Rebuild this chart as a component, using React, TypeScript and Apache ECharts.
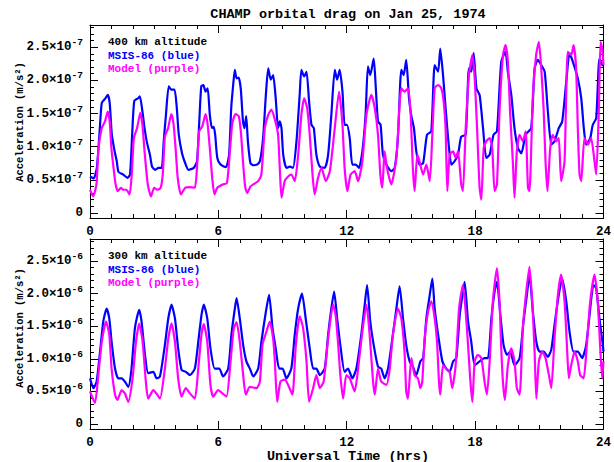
import React, { useEffect, useRef } from 'react';
import * as echarts from 'echarts';

// ---- data (hours, acceleration in units of 1e-7 for 400 km, 1e-6 for 300 km) ----
const hourLabels = [0, 6, 12, 18, 24];
const accelLabels = [0, 0.5, 1.0, 1.5, 2.0, 2.5];

const msis400: [number, number][] = [
  [0,0.55],[0.17,0.52],[0.32,0.68],[0.45,1.23],[0.55,1.66],[0.7,1.72],[0.83,1.78],[0.92,1.66],[1.02,1.18],[1.15,0.93],[1.25,0.78],[1.33,0.62],[1.55,0.58],[1.75,0.53],[1.87,0.58],[1.97,1.18],[2.07,1.69],[2.25,1.73],[2.33,1.76],[2.45,1.53],[2.55,1.28],[2.65,1.08],[2.8,0.88],[2.9,0.7],[3.05,0.65],[3.2,0.68],[3.35,0.68],[3.45,1.1],[3.55,1.48],[3.68,1.91],[3.8,1.86],[3.95,1.86],[4.05,1.61],[4.15,1.18],[4.3,0.9],[4.45,0.75],[4.6,0.65],[4.85,0.68],[5.0,0.78],[5.1,1.33],[5.2,1.91],[5.3,1.93],[5.4,1.83],[5.5,1.88],[5.6,1.48],[5.7,1.28],[5.78,1.3],[5.85,1.18],[5.95,0.83],[6.1,0.73],[6.35,0.69],[6.5,0.88],[6.6,1.58],[6.7,1.96],[6.77,2.16],[6.85,2.03],[6.95,2.04],[7.05,1.86],[7.15,1.38],[7.22,1.28],[7.3,1.46],[7.38,1.08],[7.5,0.75],
  [7.65,0.72],[7.8,0.73],[7.94,0.78],[8.09,1.13],[8.22,1.78],[8.33,2.18],[8.45,2.01],[8.56,2.08],[8.68,1.73],[8.79,1.28],[8.87,1.38],[8.95,1.28],[9.03,0.88],[9.18,0.68],[9.34,0.7],[9.49,0.68],[9.65,1.08],[9.8,1.78],[9.88,2.16],[10.01,2.06],[10.12,2.13],[10.24,1.68],[10.35,1.33],[10.46,1.28],[10.58,0.88],[10.74,0.7],[10.97,0.68],[11.13,0.88],[11.28,1.48],[11.44,2.16],[11.55,2.01],[11.67,2.16],[11.8,1.83],[11.9,1.33],[12.01,1.33],[12.14,1.13],[12.26,0.73],[12.42,0.73],[12.57,0.68],[12.73,0.93],[12.88,1.48],[12.99,2.21],[13.1,2.08],[13.26,2.33],[13.35,1.93],[13.46,1.38],[13.58,1.33],[13.69,0.88],[13.85,0.73],[14.08,0.63],[14.24,0.68],[14.39,1.13],[14.55,2.16],[14.66,2.08],[14.78,2.31],[14.91,1.73],[15.02,1.46],[15.14,1.28],[15.25,0.93],[15.4,0.73],
  [15.57,0.75],[15.75,1.18],[15.95,1.23],[16.11,2.23],[16.27,2.13],[16.37,2.48],[16.5,2.08],[16.62,1.58],[16.78,0.98],[16.89,0.73],[17.04,0.78],[17.2,0.88],[17.35,1.15],[17.56,1.18],[17.71,2.18],[17.82,2.13],[17.93,2.41],[18.06,1.88],[18.21,1.78],[18.37,1.28],[18.52,0.83],[18.68,0.88],[18.86,1.18],[19.02,1.23],[19.22,2.28],[19.42,2.43],[19.53,2.13],[19.69,1.78],[19.84,1.28],[20.0,0.98],[20.16,0.9],[20.36,1.18],[20.62,1.28],[20.78,2.18],[20.93,2.31],[21.09,2.23],[21.25,2.13],[21.4,1.53],[21.56,1.03],[21.71,1.08],[21.91,1.28],[22.07,1.38],[22.26,1.98],[22.41,2.41],[22.57,2.28],[22.8,2.03],[22.96,1.73],[23.08,1.28],[23.19,1.03],[23.38,1.13],[23.5,1.33],[23.66,1.43],[23.81,2.33],[23.94,2.23],[24,2.23],
];

const model400: [number, number][] = [
  [0,0.35],[0.15,0.25],[0.3,0.43],[0.4,0.98],[0.55,1.28],[0.7,1.38],[0.83,1.53],[0.92,1.38],[1.0,0.98],[1.1,0.68],[1.2,0.43],[1.3,0.33],[1.45,0.38],[1.55,0.35],[1.7,0.35],[1.85,0.28],[1.95,0.58],[2.05,1.13],[2.2,1.28],[2.35,1.51],[2.45,1.33],[2.55,0.93],[2.7,0.43],[2.85,0.25],[3.0,0.38],[3.15,0.35],[3.3,0.38],[3.4,0.58],[3.5,1.15],[3.65,1.28],[3.8,1.49],[3.9,1.35],[4.0,0.98],[4.1,0.53],[4.25,0.28],[4.45,0.38],[4.7,0.39],[4.9,0.38],[5.0,0.68],[5.1,1.23],[5.25,1.31],[5.4,1.49],[5.5,1.33],[5.6,0.98],[5.72,0.5],[5.82,0.28],[5.95,0.38],[6.2,0.43],[6.4,0.45],[6.55,0.98],[6.65,1.35],[6.8,1.49],[6.95,1.46],[7.05,1.23],[7.15,0.78],[7.25,0.4],[7.35,0.3],[7.5,0.4],
  [7.63,0.43],[7.86,0.48],[8.01,0.58],[8.17,1.28],[8.33,1.48],[8.48,1.56],[8.64,1.41],[8.79,1.18],[8.87,0.68],[8.95,0.23],[9.1,0.48],[9.26,0.55],[9.41,0.58],[9.57,0.48],[9.73,0.88],[9.88,1.48],[10.01,1.73],[10.15,1.58],[10.27,1.18],[10.4,0.58],[10.5,0.28],[10.66,0.53],[10.82,0.68],[11.02,0.48],[11.21,0.63],[11.44,1.28],[11.64,1.83],[11.8,1.33],[11.9,0.68],[12.03,0.33],[12.18,0.58],[12.37,0.63],[12.53,0.48],[12.73,0.78],[12.92,1.48],[13.15,1.78],[13.31,1.58],[13.46,1.18],[13.57,0.58],[13.66,0.38],[13.77,0.93],[13.88,0.68],[14.08,0.43],[14.32,0.83],[14.55,1.88],[14.7,1.83],[14.86,1.88],[14.98,1.53],[15.09,0.68],[15.17,0.33],[15.3,0.88],[15.4,0.78],
  [15.57,0.58],[15.72,0.73],[15.88,0.48],[16.0,1.18],[16.11,1.88],[16.27,1.93],[16.42,1.88],[16.53,1.68],[16.62,1.28],[16.7,0.33],[16.81,0.88],[16.97,0.93],[17.09,0.83],[17.2,0.93],[17.35,0.43],[17.43,0.33],[17.56,1.28],[17.71,2.08],[17.87,2.38],[17.98,2.03],[18.09,1.28],[18.21,0.38],[18.29,0.2],[18.4,0.98],[18.52,1.08],[18.68,1.13],[18.8,0.98],[18.91,0.33],[19.02,0.43],[19.14,1.53],[19.3,2.38],[19.42,2.53],[19.53,2.28],[19.64,1.48],[19.77,0.73],[19.84,0.23],[19.95,0.93],[20.08,1.18],[20.23,1.08],[20.36,1.23],[20.47,0.38],[20.54,0.33],[20.7,1.78],[20.85,2.38],[20.98,2.58],[21.09,2.18],[21.2,1.58],[21.29,0.78],[21.38,0.33],[21.51,0.98],[21.63,1.18],[21.79,1.08],[21.91,1.13],[22.02,0.48],[22.18,0.78],[22.33,2.43],[22.49,2.38],[22.6,2.53],[22.72,2.18],[22.8,1.28],[22.88,0.58],[22.96,0.48],[23.11,1.13],[23.27,1.03],[23.42,1.13],[23.58,0.78],[23.66,0.58],[23.78,1.53],[23.86,2.58],[23.94,2.48],[24,2.23],
];

const msis300: [number, number][] = [
  [0,0.7],[0.16,0.55],[0.31,0.65],[0.47,1.11],[0.62,1.57],[0.78,1.77],[0.9,1.62],[1.01,1.26],[1.17,0.85],[1.32,0.7],[1.48,0.7],[1.63,0.65],[1.79,0.57],[1.94,0.85],[2.1,1.47],[2.3,1.75],[2.41,1.57],[2.57,1.06],[2.72,0.78],[2.96,0.8],[3.11,0.7],[3.27,0.73],[3.5,1.21],[3.66,1.62],[3.81,1.83],[3.97,1.62],[4.12,1.16],[4.28,0.83],[4.48,0.8],[4.67,0.75],[4.9,0.85],[5.06,1.26],[5.21,1.67],[5.32,1.83],[5.48,1.62],[5.63,1.16],[5.83,0.85],[6.04,0.85],[6.22,0.73],[6.46,0.85],[6.61,1.37],[6.77,1.77],[6.85,1.93],[7.0,1.62],[7.16,1.21],[7.31,0.96],[7.47,0.85],
  [7.63,0.73],[7.86,0.85],[8.01,1.26],[8.22,1.72],[8.37,1.98],[8.53,1.47],[8.68,1.16],[8.84,0.85],[9.0,0.85],[9.18,0.7],[9.41,0.85],[9.57,1.37],[9.73,1.77],[9.91,2.0],[10.08,1.62],[10.27,1.16],[10.43,0.85],[10.58,0.85],[10.74,0.75],[10.97,0.85],[11.13,1.37],[11.28,1.77],[11.41,2.03],[11.55,1.62],[11.7,1.21],[11.9,0.8],[12.06,0.85],[12.26,0.7],[12.45,0.85],[12.68,1.37],[12.84,1.83],[12.95,2.13],[13.1,1.57],[13.26,1.21],[13.46,0.88],[13.61,0.85],[13.77,0.7],[13.93,0.85],[14.13,1.31],[14.32,1.77],[14.47,2.11],[14.63,1.62],[14.78,1.21],[14.94,0.96],[15.09,0.88],[15.25,0.75],[15.44,0.96],
  [15.57,1.01],[15.72,1.62],[15.88,1.98],[16.0,2.23],[16.11,1.77],[16.27,1.37],[16.47,0.96],[16.65,0.85],[16.81,0.8],[16.97,0.96],[17.12,1.01],[17.28,1.67],[17.43,2.03],[17.51,2.18],[17.67,1.57],[17.82,1.26],[17.98,0.9],[18.21,0.96],[18.44,1.01],[18.6,1.01],[18.76,1.62],[18.91,2.03],[19.02,2.18],[19.18,1.67],[19.33,1.21],[19.49,1.06],[19.64,1.11],[19.84,0.9],[20.08,1.01],[20.26,1.57],[20.42,1.98],[20.54,2.29],[20.7,1.72],[20.86,1.26],[21.01,1.11],[21.2,1.11],[21.4,1.03],[21.56,1.14],[21.71,1.52],[21.91,1.98],[22.07,2.23],[22.26,1.88],[22.41,1.42],[22.6,1.11],[22.8,1.11],[23.0,1.01],[23.19,1.21],[23.38,1.77],[23.53,2.13],[23.66,2.08],[23.81,1.62],[23.97,1.21],[24,1.11],
];

const model300: [number, number][] = [
  [0,0.5],[0.23,0.32],[0.39,0.75],[0.55,1.26],[0.75,1.57],[0.9,1.37],[1.01,0.85],[1.17,0.45],[1.28,0.37],[1.48,0.52],[1.63,0.47],[1.79,0.34],[1.99,0.7],[2.15,1.26],[2.3,1.54],[2.46,1.26],[2.61,0.65],[2.72,0.39],[2.96,0.52],[3.14,0.45],[3.27,0.39],[3.5,0.85],[3.66,1.31],[3.81,1.54],[3.97,1.26],[4.12,0.7],[4.28,0.42],[4.48,0.55],[4.67,0.47],[4.9,0.39],[5.06,0.85],[5.21,1.37],[5.32,1.53],[5.48,1.26],[5.63,0.6],[5.76,0.42],[5.99,0.52],[6.19,0.47],[6.38,0.42],[6.57,0.96],[6.72,1.47],[6.85,1.56],[7.0,1.26],[7.16,0.75],[7.28,0.45],[7.47,0.57],
  [7.78,0.55],[7.94,0.65],[8.06,1.21],[8.25,1.42],[8.4,1.57],[8.56,1.31],[8.64,0.96],[8.75,0.34],[8.9,0.65],[9.1,0.68],[9.26,0.6],[9.46,0.45],[9.62,1.21],[9.8,1.65],[9.96,1.47],[10.12,0.96],[10.24,0.34],[10.43,0.55],[10.58,0.75],[10.74,0.55],[10.92,0.65],[11.13,1.31],[11.36,1.83],[11.48,1.67],[11.59,1.26],[11.7,0.75],[11.83,0.39],[11.98,0.75],[12.14,0.7],[12.37,0.5],[12.53,0.85],[12.73,1.42],[12.92,1.83],[13.07,1.37],[13.23,0.65],[13.31,0.45],[13.46,0.85],[13.61,0.65],[13.85,0.6],[14.01,0.85],[14.16,1.37],[14.39,1.77],[14.55,1.62],[14.7,1.11],[14.78,0.5],[14.86,0.39],[15.02,1.01],[15.17,0.75],[15.33,0.7],[15.44,0.55],
  [15.53,0.65],[15.64,1.31],[15.8,1.72],[15.95,1.88],[16.11,1.62],[16.22,1.26],[16.31,0.65],[16.37,0.45],[16.5,0.9],[16.65,0.85],[16.81,0.8],[16.93,0.55],[17.09,0.9],[17.25,1.77],[17.43,2.13],[17.56,1.72],[17.67,1.21],[17.78,0.65],[17.87,0.34],[17.98,0.96],[18.13,1.06],[18.29,1.01],[18.44,0.65],[18.55,0.45],[18.68,0.96],[18.83,1.88],[19.02,2.39],[19.14,1.88],[19.22,1.16],[19.3,0.65],[19.39,0.37],[19.53,0.9],[19.69,1.16],[19.84,0.96],[19.95,0.55],[20.08,0.45],[20.23,1.47],[20.39,2.03],[20.54,2.41],[20.67,1.88],[20.78,1.11],[20.86,0.39],[20.98,0.96],[21.14,1.11],[21.29,1.01],[21.45,0.75],[21.56,0.55],[21.71,1.31],[21.87,1.98],[22.02,2.29],[22.18,1.88],[22.29,1.21],[22.38,0.7],[22.49,0.9],[22.65,1.11],[22.8,0.96],[22.91,0.75],[23.07,0.7],[23.22,1.21],[23.38,1.88],[23.58,2.29],[23.73,1.88],[23.84,1.21],[23.94,0.7],[24,0.96],
];

const FONT = '"Liberation Mono", "DejaVu Sans Mono", monospace';
const BLUE = '#0000ff';
const MAGENTA = '#ff00ff';
const Y_MIN = -0.076;
const Y_MAX = 2.835;

const minorHours = Array.from({ length: 25 }, (_, i) => i);
const minorAccel = Array.from({ length: 29 }, (_, i) => Math.round(i * 10) / 100);

function xAxesFor(gridIndex: number, withLabels: boolean) {
  const base = {
    type: 'value', gridIndex, min: 0, max: 24,
    splitLine: { show: false },
  };
  return [
    {
      ...base, position: 'bottom',
      axisLine: { show: true, onZero: false, lineStyle: { color: '#000', width: 1 } },
      axisTick: { show: true, inside: true, length: 8, customValues: hourLabels, lineStyle: { color: '#000' } },
      axisLabel: {
        show: withLabels, customValues: hourLabels, margin: 7,
        fontFamily: FONT, fontWeight: 'bold', fontSize: 12.5, color: '#000',
      },
    },
    {
      ...base, position: 'bottom',
      axisLine: { show: false, onZero: false },
      axisTick: { show: true, inside: true, length: 4, customValues: minorHours, lineStyle: { color: '#000' } },
      axisLabel: { show: false },
    },
    {
      ...base, position: 'top',
      axisLine: { show: true, onZero: false, lineStyle: { color: '#000', width: 1 } },
      axisTick: { show: true, inside: true, length: 8, customValues: hourLabels, lineStyle: { color: '#000' } },
      axisLabel: { show: false },
    },
    {
      ...base, position: 'top',
      axisLine: { show: false, onZero: false },
      axisTick: { show: true, inside: true, length: 4, customValues: minorHours, lineStyle: { color: '#000' } },
      axisLabel: { show: false },
    },
  ];
}

function yAxesFor(gridIndex: number, exp: string) {
  const base = {
    type: 'value', gridIndex, min: Y_MIN, max: Y_MAX,
    splitLine: { show: false },
  };
  return [
    {
      ...base, position: 'left',
      axisLine: { show: true, onZero: false, lineStyle: { color: '#000', width: 1 } },
      axisTick: { show: true, inside: true, length: 8, customValues: accelLabels, lineStyle: { color: '#000' } },
      axisLabel: {
        show: true, customValues: accelLabels, margin: 7, color: '#000',
        formatter: (v: number) => (Math.abs(v) < 1e-9 ? '{m|0}' : `{m|${v.toFixed(1)}×10}{e|${exp}}`),
        rich: {
          m: { fontFamily: FONT, fontWeight: 'bold', fontSize: 12.5, color: '#000' },
          e: { fontFamily: FONT, fontWeight: 'bold', fontSize: 9.5, color: '#000', padding: [0, 0, 9, 0] },
        },
      },
    },
    {
      ...base, position: 'left',
      axisLine: { show: false, onZero: false },
      axisTick: { show: true, inside: true, length: 4, customValues: minorAccel, lineStyle: { color: '#000' } },
      axisLabel: { show: false },
    },
    {
      ...base, position: 'right',
      axisLine: { show: true, onZero: false, lineStyle: { color: '#000', width: 1 } },
      axisTick: { show: true, inside: true, length: 8, customValues: accelLabels, lineStyle: { color: '#000' } },
      axisLabel: { show: false },
    },
    {
      ...base, position: 'right',
      axisLine: { show: false, onZero: false },
      axisTick: { show: true, inside: true, length: 4, customValues: minorAccel, lineStyle: { color: '#000' } },
      axisLabel: { show: false },
    },
  ];
}

function lineSeries(name: string, data: [number, number][], color: string, axisIndex: number) {
  return {
    name, type: 'line', data, xAxisIndex: axisIndex, yAxisIndex: axisIndex,
    showSymbol: false, symbol: 'none', smooth: 0.2,
    lineStyle: { color, width: 2.2 }, itemStyle: { color },
    clip: true,
  };
}

function legendTexts(x: number, y0: number, alt: string) {
  const items = [
    { text: alt, color: '#000' },
    { text: 'MSIS-86 (blue)', color: BLUE },
    { text: 'Model (purple)', color: MAGENTA },
  ];
  return items.map((it, i) => ({
    type: 'text', x, y: y0 + i * 13.5,
    style: { text: it.text, fill: it.color, font: `bold 11px ${FONT}`, align: 'left', verticalAlign: 'middle' },
  }));
}

export default function App() {
  const ref = useRef<HTMLDivElement>(null);
  useEffect(() => {
    if (!ref.current) return;
    const chart = echarts.init(ref.current, undefined, { renderer: 'svg' });
    chart.setOption({
      animation: false,
      backgroundColor: '#fff',
      grid: [
        { left: 90, top: 25, width: 516, height: 193 },
        { left: 90, top: 239, width: 516, height: 190 },
      ],
      xAxis: [...xAxesFor(0, true), ...xAxesFor(1, true)],
      yAxis: [...yAxesFor(0, '-7'), ...yAxesFor(1, '-6')],
      series: [
        lineSeries('MSIS-86 400 km', msis400, BLUE, 0),
        lineSeries('Model 400 km', model400, MAGENTA, 0),
        lineSeries('MSIS-86 300 km', msis300, BLUE, 4),
        lineSeries('Model 300 km', model300, MAGENTA, 4),
      ],
      graphic: [
        {
          type: 'text', x: 348, y: 14,
          style: { text: 'CHAMP orbital drag on Jan 25, 1974', fill: '#000', font: `bold 13.5px ${FONT}`, align: 'center', verticalAlign: 'middle' },
        },
        {
          type: 'text', x: 348, y: 456,
          style: { text: 'Universal Time (hrs)', fill: '#000', font: `bold 13.5px ${FONT}`, align: 'center', verticalAlign: 'middle' },
        },
        {
          type: 'text', x: 20, y: 122, rotation: Math.PI / 2,
          style: { text: 'Acceleration (m/s²)', fill: '#000', font: `bold 10.5px ${FONT}`, align: 'center', verticalAlign: 'middle' },
        },
        {
          type: 'text', x: 20, y: 328, rotation: Math.PI / 2,
          style: { text: 'Acceleration (m/s²)', fill: '#000', font: `bold 10.5px ${FONT}`, align: 'center', verticalAlign: 'middle' },
        },
        ...legendTexts(108, 42, '400 km altitude'),
        ...legendTexts(108, 256, '300 km altitude'),
      ],
    });
    return () => chart.dispose();
  }, []);
  return <div ref={ref} style={{ position: 'fixed', left: 0, top: 0, width: 614, height: 462 }} />;
}
